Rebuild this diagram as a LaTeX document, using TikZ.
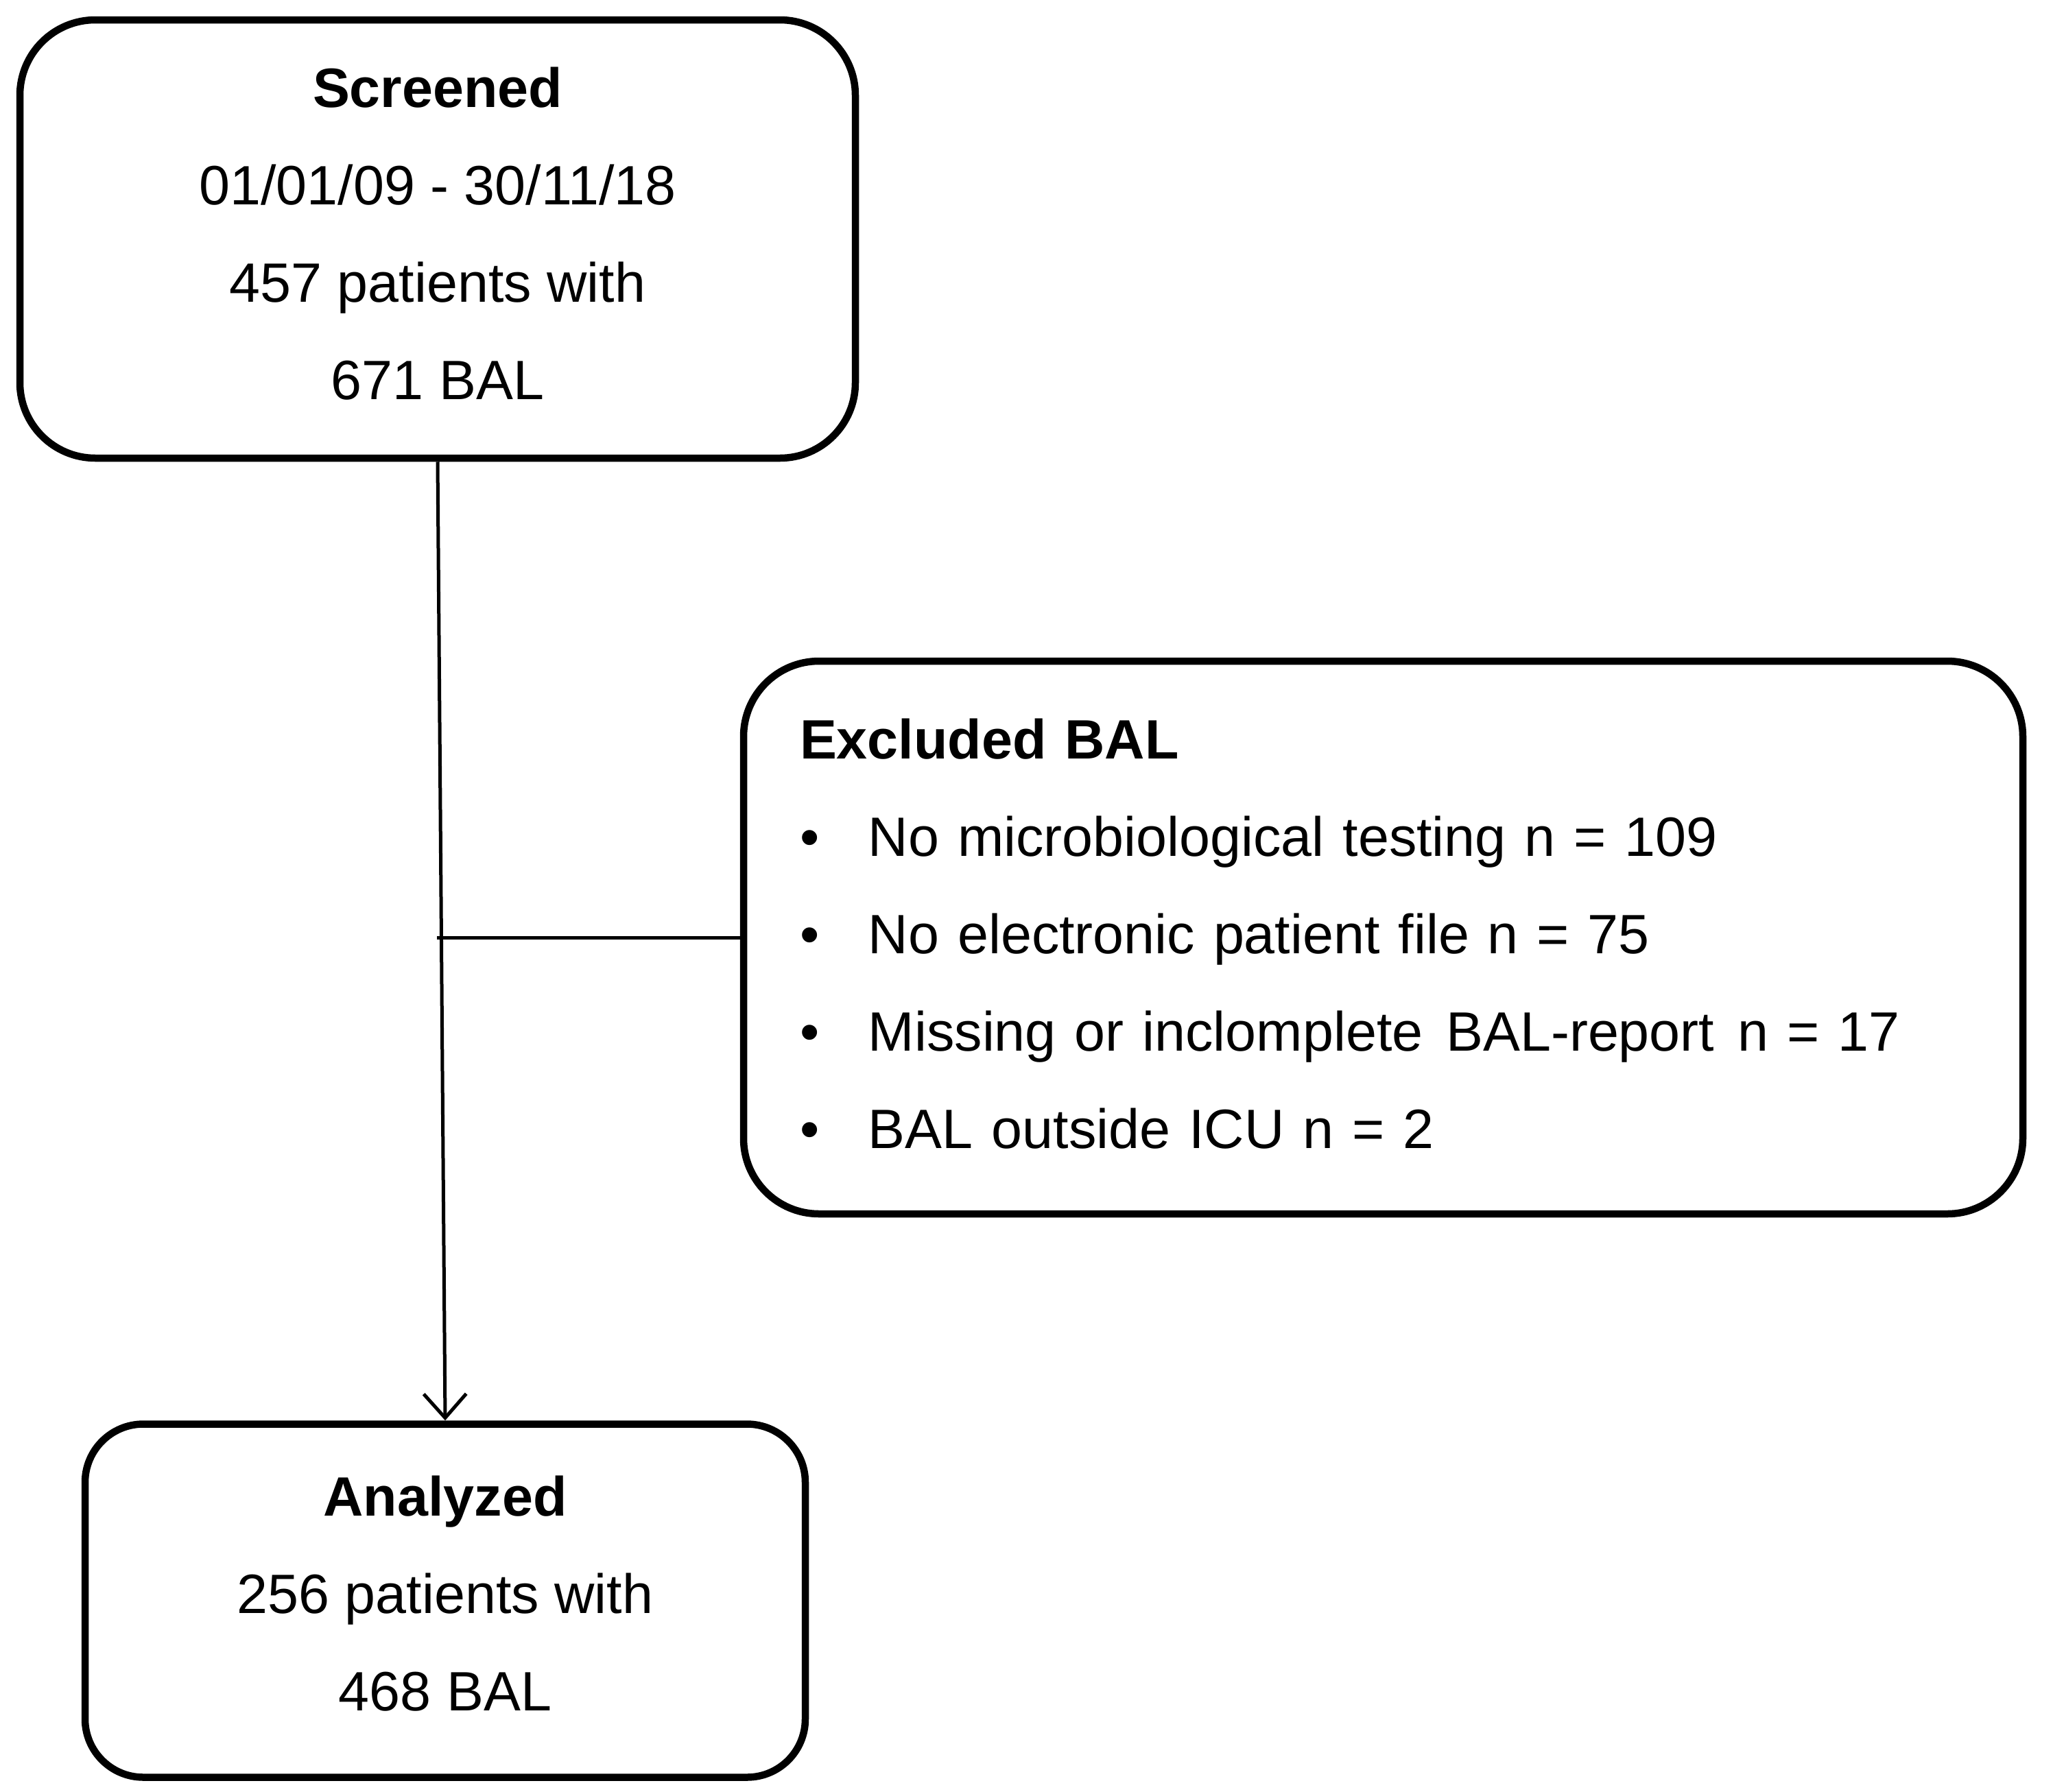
\documentclass[tikz,border=0pt]{standalone}
\usepackage{fontspec}
\setmainfont{Liberation Sans}
\usetikzlibrary{positioning, calc, arrows.meta}

\begin{document}
\begin{tikzpicture}[
          box/.style={
              rectangle, draw, line width=0.105cm, align=center,
              rounded corners=1.1cm, inner sep=0pt,
              font=\fontsize{23}{40.4}\selectfont
          },
          link/.style={line width=0.05cm},
          >={Straight Barb[length=0.35cm, width=0.62cm]},
      ]
          \useasboundingbox (0,0) rectangle (29.93,-26.12);

          % Flow boxes
          \node [box, minimum width=12.18cm, minimum height=6.39cm, text depth=0.16cm] (screened) at (6.38,-3.485)
              {\textbf{Screened}\\01/01/09 - 30/11/18\\457 patients with\\671 BAL};
          \node [box, minimum width=10.5cm, minimum height=5.15cm, rounded corners=0.85cm, text depth=0.22cm,
              below=13.98cm of screened, xshift=0.11cm] (analyzed)
              {\textbf{Analyzed}\\256 patients with\\468 BAL};

          % Exclusion box
          \node [box, align=left, text width=17.01cm, inner xsep=0.82cm, minimum height=8.06cm, text depth=5.80cm] (excluded) at (20.165,-13.67)
              {\textbf{Excluded BAL}\\
               \makebox[1cm][l]{\textbullet}No microbiological testing n = 109\\
               \makebox[1cm][l]{\textbullet}No electronic patient file n = 75\\
               \makebox[1cm][l]{\textbullet}Missing or inclomplete\hspace{0.07cm} BAL-report\hspace{0.07cm} n = 17\\
               \makebox[1cm][l]{\textbullet}BAL outside ICU n = 2};

          % Arrows
          \draw [link, ->] (screened.south) -- (analyzed.north);
          \coordinate (branch) at ($(screened.south)!0.5!(analyzed.north)$);
          \draw [link] (excluded.west) -- ($(excluded.west -| branch)+(-0.07,0)$);
        \end{tikzpicture}
\end{document}
